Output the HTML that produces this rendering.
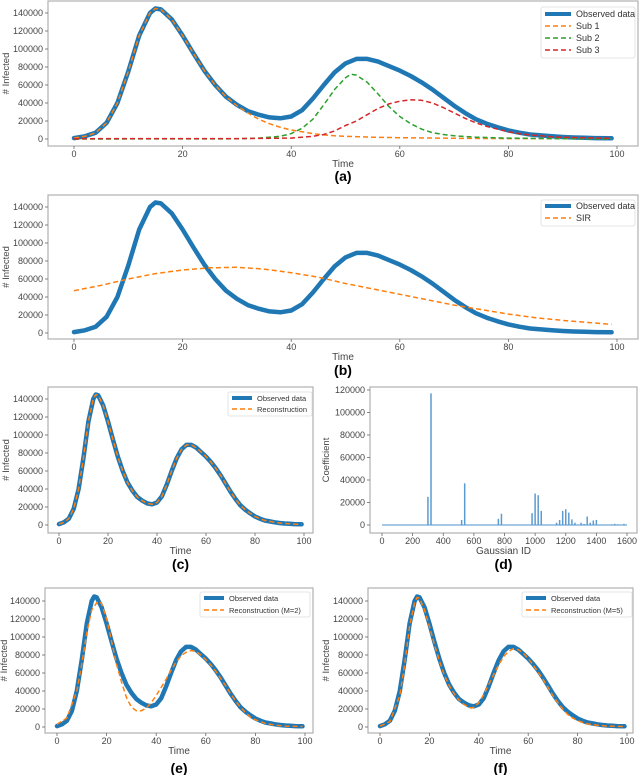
<!DOCTYPE html>
<html><head><meta charset="utf-8">
<style>
html,body{margin:0;padding:0;background:#fff;}
svg{display:block;font-family:"Liberation Sans",sans-serif;}
</style></head>
<body>
<svg id="fig" width="640" height="775" viewBox="0 0 640 775" xmlns="http://www.w3.org/2000/svg"></svg>
<script>
// ---------- data ----------
const obsT = [0,2,4,6,8,10,12,14,15,16,18,20,22,24,26,28,30,32,34,36,38,40,42,44,46,48,50,52,54,56,58,60,62,64,66,68,70,72,74,76,78,80,82,84,86,88,90,92,94,96,99];
const obsV = [1,3,7,18,40,75,115,140,145,144,133,115,95,76,60,47,38,31,27,24,23,25,32,45,60,74,84,89,89,86,81,76,70,63,55,46,37,29,22,17,13,9.5,7,5,4,3,2.2,1.7,1.3,1,0.8];
const sub1T = [0,2,4,6,8,10,12,14,15,16,18,20,22,24,26,28,30,32,34,36,38,40,42,44,46,48,50,55,60,70,80,99];
const sub1V = [1,3,7,18,40,75,115,140,145,144,133,115,95,76,60,47,37,29,22,17,13,10,8,6,4.5,3.5,3,2,1.5,0.8,0.5,0.3];
const sub2T = [0,30,34,38,40,42,44,46,48,50,51,52,54,56,58,60,62,64,66,68,70,74,80,90,99];
const sub2V = [0,0.2,1,3,6,12,22,38,55,68,72,71,63,50,36,25,17,11,7,5,3.5,2,1,0.3,0.1];
const sub3T = [0,30,40,44,46,48,50,52,54,56,58,60,62,64,66,68,70,72,74,76,78,80,82,84,86,88,90,95,99];
const sub3V = [0.3,0.5,1,3,5,9,15,20,27,34,39,42,43.5,43,40,35,29,23,18,14,11,8,6,4.5,3.5,2.5,2,1.2,0.8];
const sirT = [0,5,10,15,20,25,30,35,40,45,50,55,60,65,70,75,80,85,90,95,99];
const sirV = [47,53,60,66,70,72.5,73,71,67,62,55,49,43,37,31,26,21,17,14,11.5,9.5];
const m2T = [0,4,8,10,12,14,16,17,18,20,22,24,26,28,30,32,34,36,38,40,42,44,46,48,50,52,54,56,58,60,62,64,66,68,70,72,74,76,78,80,84,88,92,99];
const m2V = [3,10,40,70,105,130,138,140,137,120,95,70,50,33,22,18,18,21,27,35,44,53,63,72,79,83,85,84,80,75,69,62,54,46,37,29,22,16,11,8,4,2,1,0.5];
const m5T = [0,4,8,10,12,14,15,16,18,20,22,24,26,28,30,32,34,36,37,38,40,42,44,46,48,50,52,54,56,58,60,62,64,66,68,70,72,74,76,78,80,84,88,92,99];
const m5V = [1,6,35,70,112,138,144,143,130,112,92,74,58,46,37,30,25,22,21,22,27,36,47,58,69,78,84,87,86,82,76,69,61,53,44,35,27,20,14,10,7,3.5,2,1,0.5];
const gaussIds = [300,320,520,540,760,780,980,1000,1020,1040,1140,1160,1180,1200,1220,1240,1260,1300,1320,1340,1360,1380,1400,1500,1520,1540,1580];
const gaussCoef = [25000,117000,4500,37000,5500,10000,10500,28000,26500,12500,2000,4500,12500,14000,11000,5000,2000,2000,1000,7500,2000,4000,4500,500,1000,500,1000];
const timeTicks = [0,20,40,60,80,100];
const infTicks = [0,20000,40000,60000,80000,100000,120000,140000];
const idTicks = [0,200,400,600,800,1000,1200,1400,1600];
const coefTicks = [0,20000,40000,60000,80000,100000,120000];

// ---------- drawing ----------
const NS="http://www.w3.org/2000/svg";
const svg=document.getElementById('fig');
function el(tag,attrs,parent){const e=document.createElementNS(NS,tag);for(const k in attrs)e.setAttribute(k,attrs[k]);(parent||svg).appendChild(e);return e;}
const BLUE="#1f77b4",ORANGE="#ff7f0e",GREEN="#2ca02c",RED="#d62728";

function panel(p){
  const g=el('g',{});
  
  
  const sx=v=>p.x0+(v-p.xmin)/(p.xmax-p.xmin)*(p.x1-p.x0);
  const sy=v=>p.y0+(v-p.ymin)/(p.ymax-p.ymin)*(p.y1-p.y0);
  const frame=el('rect',{x:p.bl,y:p.bt,width:p.br-p.bl,height:p.bb-p.bt,fill:'none',stroke:'#b0b0b0','stroke-width':1.2},g);
  
  
  p.xt.forEach(t=>{
    const x=sx(t);
    el('line',{x1:x,x2:x,y1:p.bb,y2:p.bb+3,stroke:'#666','stroke-width':0.8},g);
    const tx=el('text',{x:x,y:p.bb+11,'font-size':9,'text-anchor':'middle',fill:'#444'},g);
    tx.textContent=t;
    
    
  });
  p.yt.forEach(t=>{
    const y=sy(t);
    el('line',{x1:p.bl-3,x2:p.bl,y1:y,y2:y,stroke:'#666','stroke-width':0.8},g);
    const ty=el('text',{x:p.bl-5,y:y+3,'font-size':9,'text-anchor':'end',fill:'#444'},g);
    ty.textContent=t;
    
    
  });
  const xl=el('text',{x:(p.bl+p.br)/2,y:p.bb+21,'font-size':10,'text-anchor':'middle',fill:'#444'},g);
  xl.textContent=p.xlabel;
  
  
  const yx=p.ylx, yy=(p.bt+p.bb)/2;
  const yl=el('text',{x:yx,y:yy,'font-size':9.5,'text-anchor':'middle',fill:'#444',transform:`rotate(-90 ${yx} ${yy})`},g);
  yl.textContent=p.ylabel;
  
  
  const cap=el('text',{x:(p.bl+p.br)/2,y:p.capy,'font-size':14,'text-anchor':'middle','font-weight':'bold',fill:'#000'},g);
  cap.textContent=p.caption;
  
  
  (p.series||[]).forEach(s=>{
    const d=s.t.map((t,i)=>(i?'L':'M')+sx(t).toFixed(1)+','+sy(s.v[i]*(s.k||1)).toFixed(1)).join(' ');
    const path=el('path',{d:d,fill:'none',stroke:s.c,'stroke-width':s.w,'stroke-dasharray':s.dash||'','stroke-linejoin':'round','stroke-linecap':s.dash?'butt':'round','stroke-opacity':s.op||1},g);
    
    
  });
  if(p.bars){
    const base=el('line',{x1:sx(0),x2:sx(1600),y1:sy(0),y2:sy(0),stroke:'#6fa8d6','stroke-width':1.2},g);
    
    
    p.bars.ids.forEach((id,i)=>{
      const b=el('line',{x1:sx(id),x2:sx(id),y1:sy(0),y2:sy(p.bars.vals[i]),stroke:'#5b9bd0','stroke-width':1.5},g);
      
      
    });
  }
  if(p.legend){
    const L=p.legend;
    const lg=el('g',{},g);
    
    
    el('rect',{x:L.x,y:L.y,width:L.w,height:L.h,fill:'#fff','fill-opacity':0.85,stroke:'#ddd','stroke-width':0.8,rx:2},lg);
    L.items.forEach((it,i)=>{
      const y=L.y+L.first+i*L.step;
      el('line',{x1:L.x+4,x2:L.x+L.sw,y1:y,y2:y,stroke:it.c,'stroke-width':it.w,'stroke-dasharray':it.dash||''},lg);
      const t=el('text',{x:L.x+L.sw+5,y:y+3,'font-size':L.fs,fill:'#333'},lg);
      t.textContent=it.label;
      
      
    });
  }
}

const K=1000;
// (a)
panel({name:'panel-a',bl:48,br:638,bt:1,bb:146,x0:74,x1:617,xmin:0,xmax:100,y0:139,y1:13,ymin:0,ymax:140000,
  xt:timeTicks,yt:infTicks,xlabel:'Time',ylabel:'# Infected',ylx:9,capy:181,caption:'(a)',
  series:[
    {name:'observed-line',t:obsT,v:obsV,k:K,c:BLUE,w:4.5},
    {name:'sub1-line',t:sub1T,v:sub1V,k:K,c:ORANGE,w:1.5,dash:'5,3'},
    {name:'sub2-line',t:sub2T,v:sub2V,k:K,c:GREEN,w:1.5,dash:'5,3'},
    {name:'sub3-line',t:sub3T,v:sub3V,k:K,c:RED,w:1.5,dash:'5,3'}],
  legend:{x:541,y:7,w:94,h:51,first:7,step:12,sw:30,fs:9,items:[
    {label:'Observed data',c:BLUE,w:4},{label:'Sub 1',c:ORANGE,w:1.5,dash:'5,3'},
    {label:'Sub 2',c:GREEN,w:1.5,dash:'5,3'},{label:'Sub 3',c:RED,w:1.5,dash:'5,3'}]}});
// (b)
panel({name:'panel-b',bl:48,br:638,bt:195,bb:339,x0:74,x1:617,xmin:0,xmax:100,y0:333,y1:207,ymin:0,ymax:140000,
  xt:timeTicks,yt:infTicks,xlabel:'Time',ylabel:'# Infected',ylx:9,capy:375,caption:'(b)',
  series:[
    {name:'observed-line',t:obsT,v:obsV,k:K,c:BLUE,w:4.5},
    {name:'sir-line',t:sirT,v:sirV,k:K,c:ORANGE,w:1.5,dash:'5,3'}],
  legend:{x:541,y:200,w:94,h:26,first:6,step:12,sw:30,fs:9,items:[
    {label:'Observed data',c:BLUE,w:4},{label:'SIR',c:ORANGE,w:1.5,dash:'5,3'}]}});
// (c)
panel({name:'panel-c',bl:48,br:313,bt:387,bb:533,x0:59,x1:304,xmin:0,xmax:100,y0:525,y1:399,ymin:0,ymax:140000,
  xt:timeTicks,yt:infTicks,xlabel:'Time',ylabel:'# Infected',ylx:9,capy:569,caption:'(c)',
  series:[
    {name:'observed-line',t:obsT,v:obsV,k:K,c:BLUE,w:4.5},
    {name:'reconstruction-line',t:obsT,v:obsV,k:K,c:ORANGE,w:1.5,dash:'5,3'}],
  legend:{x:228,y:392,w:84,h:24,first:6,step:11,sw:24,fs:7.5,items:[
    {label:'Observed data',c:BLUE,w:4},{label:'Reconstruction',c:ORANGE,w:1.5,dash:'5,3'}]}});
// (d)
panel({name:'panel-d',bl:370,br:637,bt:387,bb:533,x0:382,x1:627,xmin:0,xmax:1600,y0:525,y1:390,ymin:0,ymax:120000,
  xt:idTicks,yt:coefTicks,xlabel:'Gaussian ID',ylabel:'Coefficient',ylx:329,capy:569,caption:'(d)',
  bars:{ids:gaussIds,vals:gaussCoef}});
// (e)
panel({name:'panel-e',bl:45,br:313,bt:588,bb:733,x0:57,x1:305,xmin:0,xmax:100,y0:727,y1:601,ymin:0,ymax:140000,
  xt:timeTicks,yt:infTicks,xlabel:'Time',ylabel:'# Infected',ylx:7,capy:773,caption:'(e)',
  series:[
    {name:'observed-line',t:obsT,v:obsV,k:K,c:BLUE,w:4.5},
    {name:'reconstruction-m2-line',t:m2T,v:m2V,k:K,c:ORANGE,w:1.5,dash:'5,3'}],
  legend:{x:200,y:592,w:110,h:25,first:6,step:12,sw:24,fs:7.5,items:[
    {label:'Observed data',c:BLUE,w:4},{label:'Reconstruction (M=2)',c:ORANGE,w:1.5,dash:'5,3'}]}});
// (f)
panel({name:'panel-f',bl:368,br:633,bt:588,bb:733,x0:380,x1:627,xmin:0,xmax:100,y0:727,y1:601,ymin:0,ymax:140000,
  xt:timeTicks,yt:infTicks,xlabel:'Time',ylabel:'# Infected',ylx:329,capy:773,caption:'(f)',
  series:[
    {name:'observed-line',t:obsT,v:obsV,k:K,c:BLUE,w:4.5},
    {name:'reconstruction-m5-line',t:m5T,v:m5V,k:K,c:ORANGE,w:1.5,dash:'5,3'}],
  legend:{x:522,y:592,w:110,h:25,first:6,step:12,sw:24,fs:7.5,items:[
    {label:'Observed data',c:BLUE,w:4},{label:'Reconstruction (M=5)',c:ORANGE,w:1.5,dash:'5,3'}]}});
</script>
</body></html>
